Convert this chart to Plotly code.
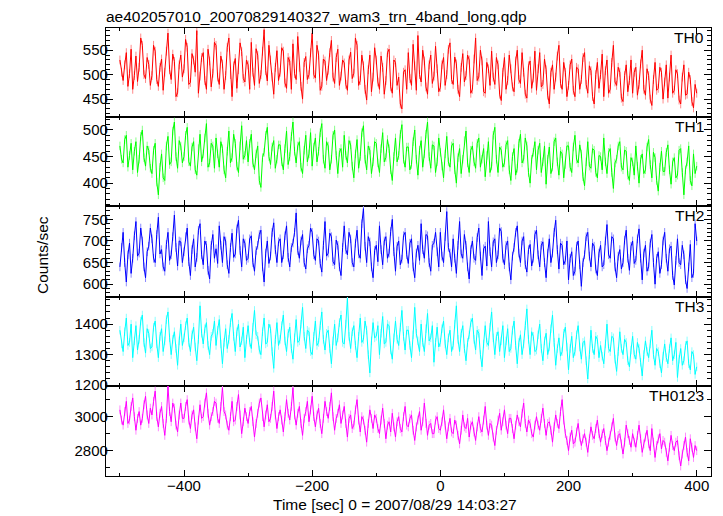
import plotly.graph_objects as go

# ---------------- data (2.5 s bins from -500 s to +400 s) ----------------
T_START, T_STEP = -500.0, 2.5

th0 = [530, 505, 488, 520, 545, 476, 502, 552, 470, 498, 538, 486, 515, 575, 560, 500, 492, 535, 521, 478,
       498, 560, 548, 490, 476, 515, 532, 468, 505, 548, 585, 510, 490, 542, 527, 455, 463, 520, 540, 495,
       512, 572, 556, 480, 484, 543, 530, 505, 590, 462, 497, 535, 545, 488, 470, 552, 528, 475, 503, 566,
       560, 495, 480, 538, 522, 470, 498, 556, 575, 500, 455, 518, 533, 472, 510, 565, 547, 492, 485, 530,
       520, 470, 566, 505, 478, 553, 540, 482, 500, 548, 592, 508, 487, 560, 530, 495, 460, 515, 549, 488,
       505, 555, 548, 483, 472, 535, 528, 470, 563, 502, 490, 578, 515, 476, 450, 525, 537, 490, 500, 545,
       585, 500, 493, 560, 540, 468, 476, 532, 528, 488, 509, 545, 570, 495, 482, 535, 552, 478, 497, 530,
       524, 480, 468, 530, 546, 492, 503, 575, 560, 478, 488, 540, 518, 470, 448, 510, 540, 465, 495, 555,
       530, 485, 470, 538, 515, 460, 488, 545, 552, 475, 462, 530, 525, 478, 495, 440, 430, 505, 510, 470,
       545, 492, 478, 562, 518, 468, 580, 500, 485, 550, 528, 475, 460, 520, 540, 482, 497, 558, 512, 465,
       474, 520, 535, 478, 500, 552, 565, 490, 480, 536, 522, 470, 455, 515, 543, 485, 498, 540, 530, 462,
       470, 532, 575, 488, 495, 550, 528, 465, 462, 525, 512, 478, 548, 495, 480, 535, 520, 460, 447, 505,
       535, 470, 488, 540, 512, 475, 465, 528, 550, 490, 482, 545, 505, 460, 452, 518, 528, 472, 493, 548,
       468, 512, 545, 475, 480, 532, 510, 458, 440, 505, 520, 470, 495, 538, 560, 482, 470, 525, 505, 455,
       478, 520, 532, 468, 455, 515, 512, 470, 490, 535, 545, 480, 462, 518, 508, 455, 440, 500, 525, 472,
       500, 542, 455, 508, 530, 462, 470, 525, 560, 485, 478, 515, 505, 452, 445, 498, 520, 465, 488, 530,
       462, 505, 515, 458, 480, 522, 550, 470, 458, 512, 498, 450, 437, 490, 525, 468, 472, 515, 505, 450,
       485, 520, 452, 495, 540, 462, 468, 510, 502, 448, 440, 495, 520, 458, 460, 505, 490, 445, 432, 480,
       462]

th1 = [470, 445, 438, 482, 490, 430, 452, 475, 425, 460, 478, 420, 445, 488, 500, 448, 432, 470, 462, 428,
       418, 462, 475, 402, 378, 430, 455, 410, 405, 470, 488, 435, 440, 498, 515, 450, 428, 480, 470, 438,
       450, 490, 505, 440, 432, 468, 478, 425, 415, 465, 492, 440, 455, 485, 512, 430, 438, 475, 470, 428,
       485, 455, 430, 478, 465, 425, 410, 460, 498, 438, 448, 492, 475, 432, 420, 470, 508, 445, 452, 480,
       440, 475, 492, 438, 425, 455, 470, 405, 392, 448, 458, 490, 505, 450, 435, 468, 480, 428, 445, 472,
       472, 440, 425, 465, 498, 435, 450, 488, 515, 460, 438, 470, 478, 430, 418, 462, 490, 440, 455, 495,
       432, 468, 485, 440, 460, 495, 512, 445, 428, 478, 470, 425, 445, 490, 500, 452, 418, 458, 465, 430,
       490, 452, 438, 480, 472, 432, 410, 455, 482, 428, 450, 495, 508, 445, 425, 470, 462, 418, 440, 478,
       475, 438, 420, 465, 495, 440, 448, 482, 465, 425, 405, 450, 485, 440, 452, 492, 510, 445, 430, 468,
       468, 425, 435, 478, 500, 445, 415, 462, 480, 430, 455, 492, 515, 450, 428, 472, 470, 420, 440, 485,
       458, 432, 410, 455, 488, 440, 430, 470, 475, 425, 400, 448, 465, 418, 445, 480, 498, 438, 420, 462,
       470, 440, 428, 475, 485, 430, 445, 465, 412, 452, 478, 420, 432, 490, 505, 445, 420, 468, 462, 430,
       438, 472, 480, 425, 405, 450, 465, 415, 428, 475, 492, 438, 445, 485, 470, 420, 400, 445, 458, 478,
       425, 462, 475, 420, 440, 470, 398, 445, 468, 418, 430, 478, 485, 440, 415, 460, 455, 410, 435, 470,
       470, 430, 420, 468, 490, 445, 438, 472, 455, 412, 395, 440, 478, 432, 428, 465, 462, 420, 410, 452,
       450, 425, 485, 440, 418, 458, 465, 420, 390, 438, 445, 470, 478, 430, 425, 462, 460, 415, 405, 448,
       440, 415, 470, 432, 400, 445, 455, 418, 425, 468, 482, 435, 410, 458, 448, 405, 385, 430, 460, 422,
       422, 458, 472, 425, 398, 440, 448, 410, 415, 462, 465, 420, 378, 425, 440, 470, 405, 395, 455, 418,
       432]

th2 = [640, 685, 720, 650, 605, 668, 695, 625, 660, 712, 745, 665, 672, 730, 700, 640, 615, 675, 688, 730,
       705, 660, 650, 715, 755, 670, 680, 640, 630, 692, 720, 655, 668, 710, 760, 685, 642, 700, 698, 650,
       675, 710, 730, 652, 620, 680, 705, 640, 662, 725, 740, 668, 645, 700, 690, 632, 612, 690, 715, 660,
       682, 648, 735, 690, 650, 710, 700, 645, 625, 685, 718, 662, 670, 728, 748, 678, 640, 705, 695, 655,
       660, 705, 712, 650, 630, 678, 690, 715, 725, 640, 605, 672, 700, 648, 665, 720, 742, 680, 650, 698,
       705, 650, 668, 712, 735, 662, 640, 685, 695, 720, 765, 678, 660, 700, 715, 650, 635, 682, 690, 730,
       720, 668, 655, 705, 700, 648, 628, 690, 745, 665, 672, 718, 710, 652, 645, 702, 690, 640, 620, 685,
       735, 680, 668, 720, 705, 650, 640, 695, 725, 670, 660, 740, 775, 688, 650, 710, 698, 640, 615, 678,
       690, 652, 735, 680, 645, 700, 710, 660, 672, 722, 750, 675, 630, 688, 700, 645, 658, 712, 720, 668,
       648, 695, 705, 640, 615, 672, 690, 655, 740, 680, 660, 715, 712, 650, 630, 690, 695, 720, 675, 640,
       720, 665, 650, 710, 768, 685, 672, 640, 705, 660, 625, 690, 745, 670, 660, 715, 690, 640, 612, 680,
       700, 660, 655, 708, 730, 665, 620, 682, 688, 642, 745, 675, 640, 698, 705, 650, 668, 730, 722, 660,
       645, 690, 700, 640, 610, 665, 685, 720, 735, 672, 650, 700, 710, 645, 628, 680, 692, 642, 660, 715,
       725, 668, 640, 690, 698, 650, 615, 672, 705, 650, 672, 720, 748, 680, 635, 695, 690, 645, 655, 700,
       610, 660, 675, 620, 630, 688, 700, 645, 595, 650, 668, 710, 720, 665, 640, 695, 688, 635, 620, 672,
       690, 640, 645, 700, 738, 668, 660, 710, 705, 640, 615, 665, 680, 635, 650, 702, 725, 660, 632, 688,
       700, 648, 655, 705, 728, 660, 610, 672, 690, 630, 640, 695, 715, 650, 600, 660, 675, 625, 645, 700,
       720, 660, 630, 682, 688, 620, 598, 655, 705, 650, 645, 690, 668, 610, 590, 640, 692, 615, 625, 740,
       700]

th3 = [1380, 1335, 1310, 1375, 1420, 1330, 1340, 1400, 1290, 1345, 1395, 1315, 1350, 1410, 1430, 1340, 1305, 1385, 1370, 1320,
       1325, 1390, 1410, 1335, 1290, 1360, 1385, 1310, 1345, 1415, 1440, 1355, 1300, 1350, 1375, 1320, 1265, 1345, 1400, 1330,
       1355, 1395, 1420, 1340, 1310, 1365, 1390, 1325, 1280, 1350, 1460, 1370, 1335, 1385, 1405, 1330, 1300, 1360, 1370, 1410,
       1330, 1380, 1415, 1335, 1270, 1340, 1385, 1320, 1350, 1405, 1435, 1360, 1310, 1375, 1400, 1325, 1345, 1390, 1290, 1350,
       1395, 1340, 1320, 1390, 1445, 1365, 1360, 1315, 1300, 1375, 1420, 1335, 1340, 1400, 1385, 1310, 1255, 1350, 1405, 1330,
       1350, 1395, 1430, 1345, 1310, 1370, 1390, 1320, 1285, 1355, 1415, 1340, 1345, 1400, 1455, 1360, 1320, 1380, 1375, 1310,
       1300, 1360, 1410, 1330, 1340, 1395, 1440, 1350, 1315, 1370, 1380, 1320, 1270, 1345, 1400, 1330, 1355, 1405, 1430, 1340,
       1335, 1400, 1485, 1360, 1320, 1375, 1395, 1330, 1290, 1360, 1420, 1340, 1350, 1410, 1380, 1300, 1240, 1345, 1405, 1355,
       1360, 1395, 1300, 1370, 1425, 1335, 1340, 1400, 1395, 1315, 1285, 1355, 1410, 1350, 1330, 1390, 1445, 1360, 1315, 1380,
       1380, 1330, 1290, 1365, 1455, 1370, 1345, 1310, 1400, 1340, 1310, 1385, 1435, 1345, 1355, 1395, 1275, 1340, 1390, 1325,
       1340, 1385, 1410, 1335, 1300, 1355, 1380, 1310, 1330, 1400, 1460, 1350, 1310, 1370, 1395, 1320, 1280, 1340, 1365, 1405,
       1420, 1350, 1315, 1380, 1370, 1300, 1260, 1335, 1395, 1340, 1330, 1390, 1440, 1355, 1300, 1360, 1375, 1310, 1345, 1395,
       1290, 1345, 1385, 1310, 1320, 1380, 1410, 1330, 1270, 1340, 1365, 1300, 1335, 1395, 1450, 1350, 1300, 1375, 1360, 1310,
       1315, 1365, 1400, 1320, 1280, 1345, 1370, 1300, 1325, 1385, 1430, 1340, 1265, 1320, 1355, 1295, 1310, 1370, 1390, 1325,
       1250, 1320, 1360, 1290, 1310, 1365, 1395, 1325, 1285, 1340, 1345, 1280, 1220, 1300, 1380, 1320, 1300, 1360, 1350, 1290,
       1330, 1295, 1270, 1335, 1400, 1320, 1310, 1360, 1355, 1285, 1245, 1310, 1375, 1320, 1300, 1350, 1340, 1280, 1260, 1315,
       1360, 1300, 1285, 1340, 1320, 1275, 1230, 1300, 1345, 1310, 1290, 1335, 1380, 1300, 1265, 1320, 1310, 1270, 1240, 1295,
       1335, 1290, 1270, 1320, 1355, 1280, 1300, 1340, 1225, 1285, 1320, 1265, 1280, 1330, 1345, 1270, 1250, 1310, 1300, 1235,
       1260]

th0123 = [3040, 2980, 2950, 3030, 3090, 2960, 2980, 3060, 3110, 3000, 2920, 2990, 3030, 2950, 2990, 3070, 3120, 3010, 2960, 3050,
          3010, 3090, 3150, 3000, 2940, 3020, 3060, 2960, 2890, 2990, 3180, 3030, 2970, 3080, 3050, 2950, 2910, 3010, 3080, 2990,
          2990, 3060, 3100, 2980, 2930, 3010, 3040, 2940, 2870, 2980, 3070, 2990, 3000, 3080, 3140, 3020, 2950, 3000, 3030, 3090,
          3080, 2990, 2960, 3060, 3170, 3030, 3010, 2950, 2920, 3000, 3090, 2970, 2980, 3060, 3130, 3010, 2900, 2970, 3050, 3000,
          2960, 3030, 3060, 2970, 2880, 2960, 3020, 3080, 3110, 3000, 2940, 3010, 3070, 2970, 2990, 3060, 3150, 3010, 2930, 3000,
          3040, 2980, 2910, 3000, 3100, 3020, 2980, 3060, 3170, 3010, 2950, 3020, 3060, 2960, 2890, 2990, 3030, 3090, 2970, 3040,
          3120, 3000, 2940, 3010, 3050, 2960, 2900, 2990, 3090, 3030, 2990, 3060, 3140, 3000, 2920, 2990, 3020, 3070, 2960, 3010,
          3060, 2960, 2880, 2990, 3010, 2930, 2950, 3040, 3100, 2980, 2910, 3000, 2980, 2920, 2850, 2960, 3040, 2990, 2930, 3010,
          2990, 2930, 2900, 2980, 3050, 2960, 2870, 2950, 2970, 2910, 3020, 2940, 2880, 2970, 3000, 2930, 2910, 3000, 3060, 2950,
          2940, 2990, 3010, 2920, 2860, 2940, 2980, 3030, 2920, 2970, 3080, 2960, 2890, 2950, 2960, 2900, 2900, 2980, 3000, 2930,
          2920, 2970, 3040, 2950, 2870, 2940, 2990, 2910, 2900, 2980, 2950, 2890, 2840, 2920, 3010, 2940, 2930, 2990, 2880, 2950,
          2970, 2910, 2860, 2940, 3000, 2930, 2910, 2980, 3060, 2950, 2890, 2960, 2950, 2880, 2830, 2920, 2980, 3020, 2920, 2970,
          3040, 2950, 2900, 2990, 2990, 2930, 2870, 2950, 3010, 2970, 2940, 3020, 3080, 2960, 2910, 2980, 2960, 2900, 2880, 2950,
          3000, 2950, 2920, 2990, 3050, 2960, 2890, 2960, 2970, 2920, 2850, 2940, 3010, 2960, 2930, 3030, 3100, 2980, 2900, 2860,
          2800, 2880, 2920, 2840, 2850, 2910, 2960, 2880, 2830, 2870, 2900, 2850, 2790, 2870, 2940, 2890, 2870, 2930, 2980, 2900,
          2850, 2900, 2930, 2860, 2800, 2850, 2890, 2940, 2990, 2880, 2830, 2890, 2900, 2840, 2780, 2850, 2950, 2900, 2860, 2820,
          2900, 2850, 2820, 2890, 2950, 2870, 2790, 2840, 2880, 2920, 2840, 2800, 2930, 2850, 2760, 2830, 2870, 2900, 2810, 2860,
          2850, 2790, 2740, 2820, 2890, 2830, 2800, 2850, 2860, 2770, 2710, 2780, 2830, 2880, 2790, 2740, 2870, 2820, 2760, 2830,
          2800]

series_names = ["TH0", "TH1", "TH2", "TH3", "TH0123"]
series_values = [th0, th1, th2, th3, th0123]
x_tick_values = [-400, -200, 0, 200, 400]

# ---------------- style ----------------
colors = ["#ff0000", "#00ff00", "#0000ff", "#00ffff", "#ff00ff"]
err_colors = ["#ff8a8a", "#8aff8a", "#8a8aff", "#8affff", "#ff8aff"]
err_size = [9, 8, 10, 14, 26]          # half-length of the light error bars
y_ranges = [[414, 596], [357, 525], [571, 781], [1198, 1490], [2651, 3182]]
y_dticks = [50, 50, 50, 100, 200]
y_minor = [10, 10, 10, 20, 100]
x_range = [-521.7, 422.3]

# The page body has an 8 px default margin, so the figure is made 8 px
# smaller in each direction and every window position is shifted by 8 px.
WIN_W, WIN_H, OFF = 723, 516, 8
W, H = WIN_W - OFF, WIN_H - OFF
LEFT, RIGHT = 106, 711
bounds = [27.7, 116.7, 206.0, 296.7, 385.7, 476.0]
FONT = "Liberation Sans, Arial, Helvetica, sans-serif"


def px(xp):
    return (xp - OFF) / W


def py(yp):
    return 1 - (yp - OFF) / H


fig = go.Figure()
layout = dict(
    template="none",
    width=W, height=H,
    margin=dict(l=0, r=0, t=0, b=0, pad=0),
    paper_bgcolor="white", plot_bgcolor="white",
    showlegend=False,
    font=dict(family=FONT, size=15, color="black"),
)

annotations = []
for i, (name, vals, col) in enumerate(zip(series_names, series_values, colors)):
    n = i + 1
    xa = "x" if n == 1 else f"x{n}"
    ya = "y" if n == 1 else f"y{n}"
    t = [T_START + T_STEP * k for k in range(len(vals))]
    fig.add_trace(go.Scatter(
        x=t, y=vals, mode="lines",
        line=dict(color=col, width=1),
        error_y=dict(type="constant", value=err_size[i], color=err_colors[i],
                     thickness=1, width=0),
        xaxis=xa, yaxis=ya, hoverinfo="skip",
    ))
    top, bot = bounds[i], bounds[i + 1]
    xkey = "xaxis" if n == 1 else f"xaxis{n}"
    ykey = "yaxis" if n == 1 else f"yaxis{n}"
    xdict = dict(
        domain=[px(LEFT), px(RIGHT)], anchor=ya, range=x_range,
        automargin=False,
        tickvals=x_tick_values, ticks="inside", ticklen=6, tickwidth=1,
        tickcolor="black", mirror="ticks", showline=True,
        linecolor="black", linewidth=1.2, showgrid=False, zeroline=False,
        showticklabels=(n == 5), ticklabelstandoff=-4,
        tickfont=dict(family=FONT, size=15, color="black"),
        minor=dict(dtick=100, tick0=0, ticks="inside", ticklen=3,
                   tickcolor="black", showgrid=False),
    )
    if n > 1:
        xdict["matches"] = "x"
    layout[xkey] = xdict
    layout[ykey] = dict(
        domain=[py(bot), py(top)], anchor=xa, range=y_ranges[i],
        automargin=False,
        dtick=y_dticks[i], tick0=0, ticks="inside", ticklen=7, tickwidth=1,
        tickcolor="black", mirror="ticks", showline=True,
        linecolor="black", linewidth=1.2, showgrid=False, zeroline=False,
        ticklabelstandoff=-6,
        tickfont=dict(family=FONT, size=15, color="black"),
        minor=dict(dtick=y_minor[i], tick0=0, ticks="inside", ticklen=4,
                   tickcolor="black", showgrid=False),
    )
    annotations.append(dict(
        text=name, xref="paper", yref="paper",
        x=px(706), y=py(top - 1), xanchor="right", yanchor="top",
        showarrow=False, font=dict(family=FONT, size=15.5, color="black"),
    ))

annotations.append(dict(
    text="ae402057010_20070829140327_wam3_trn_4band_long.qdp",
    xref="paper", yref="paper", x=px(104), y=py(6), xanchor="left",
    yanchor="top", showarrow=False,
    font=dict(family=FONT, size=15.5, color="black"),
))
annotations.append(dict(
    text="Time [sec] 0 = 2007/08/29 14:03:27",
    xref="paper", yref="paper", x=px(395), y=py(494), xanchor="center",
    yanchor="top", showarrow=False,
    font=dict(family=FONT, size=15.5, color="black"),
))
annotations.append(dict(
    text="Counts/sec", textangle=-90,
    xref="paper", yref="paper", x=px(42), y=py(255), xanchor="center",
    yanchor="middle", showarrow=False,
    font=dict(family=FONT, size=15.5, color="black"),
))
layout["annotations"] = annotations
fig.update_layout(**layout)

fig.write_html("out.html")
